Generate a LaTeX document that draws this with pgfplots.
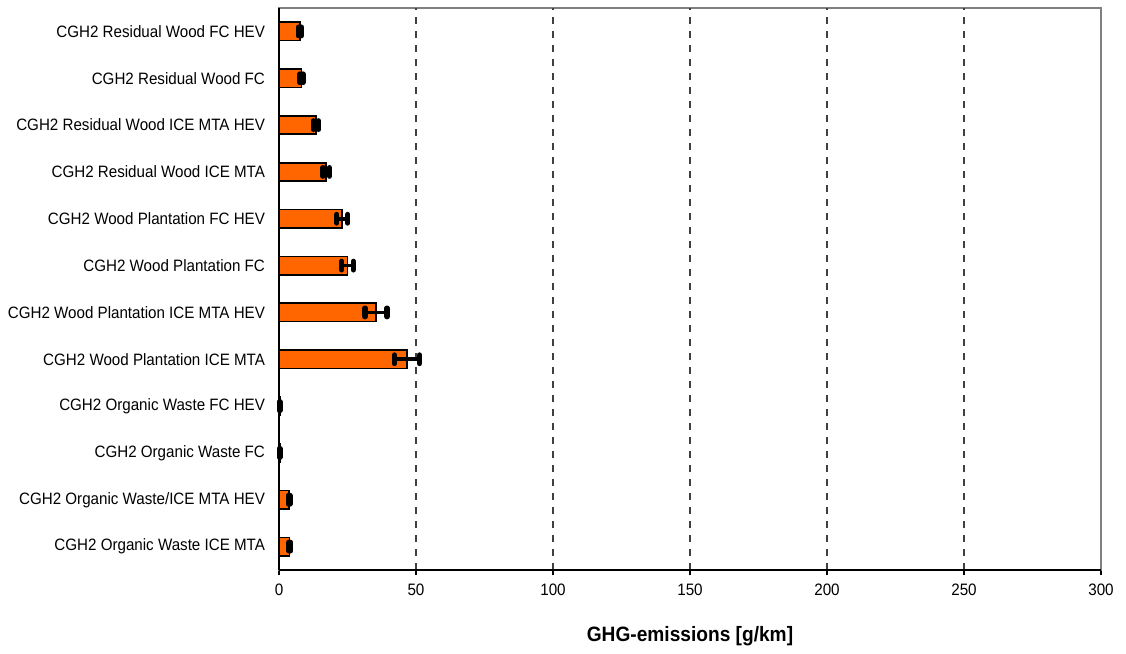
\documentclass[border=0pt]{standalone}
\usepackage{pgfplots}
\pgfplotsset{compat=1.18}
\usepackage{fontspec}
\setmainfont[FakeStretch=0.92]{Liberation Sans}
\definecolor{barorange}{HTML}{FF6600}
\begin{document}
\begin{tikzpicture}
\path[use as bounding box] (-209.25pt,-62.25pt) rectangle (635.25pt,427.5pt);
\begin{axis}[
  at={(0,0)}, anchor=south west,
  scale only axis,
  width=616.5pt, height=421.5pt,
  xmin=0, xmax=300,
  ymin=0.5, ymax=12.5,
  xbar,
  bar width=13.8pt,
  axis line style={draw=gray, line width=0.8pt},
  xtick={0,50,...,300},
  xtick pos=bottom, ytick pos=left,
  /pgf/number format/assume math mode=true,
  x tick label style={font=\fontsize{12.4}{14}\selectfont, yshift=-3pt},
  extra x ticks={50,100,...,250},
  extra x tick labels={},
  extra x tick style={grid=major, major tick length=0pt},
  grid style={black!75, dash pattern=on 5pt off 5.5pt, line width=0.8pt},
  tick align=outside,
  major tick length=4pt,
  tick style={black, line width=0.8pt},
  ytick={1,...,12},
  yticklabels={CGH2 Organic Waste ICE MTA, CGH2 Organic Waste/ICE MTA HEV, CGH2 Organic Waste FC, CGH2 Organic Waste FC HEV, CGH2 Wood Plantation ICE MTA, CGH2 Wood Plantation ICE MTA HEV, CGH2 Wood Plantation FC, CGH2 Wood Plantation FC HEV, CGH2 Residual Wood ICE MTA, CGH2 Residual Wood ICE MTA HEV, CGH2 Residual Wood FC, CGH2 Residual Wood FC HEV},
  y tick label style={font=\fontsize{12.35}{14}\selectfont, xshift=-3pt},
  ytick style={draw=none},
  minor ytick={0.5,1.5,...,12.5},
  minor y tick style={black, line width=0.8pt},
  minor tick length=4pt,
  xlabel={\textbf{GHG-emissions [g/km]}},
  xlabel style={font=\fontsize{15.6}{17}\selectfont, yshift=-12pt},
  clip=false,
]
\addplot[fill=barorange, draw=black, line width=1.2pt,
  error bars/.cd, x dir=both, x explicit,
  error bar style={line width=2.8pt, black},
  error mark=|,
  error mark options={line width=4pt, mark size=3.2pt, line cap=round, black}]
coordinates {
(3.9,1) +- (0.3,0)
(3.7,2) +- (0.3,0)
(0.3,3) +- (0.1,0)
(0.3,4) +- (0.1,0)
(46.7,5) +- (4.6,0)
(35.4,6) +- (4.0,0)
(25.0,7) +- (2.1,0)
(23.1,8) +- (2.0,0)
(17.2,9) +- (1.2,0)
(13.5,10) +- (1.0,0)
(8.2,11) +- (0.5,0)
(7.6,12) +- (0.6,0)
};
\draw[black, line width=0.8pt] (rel axis cs:0,0) -- (rel axis cs:0,1);
\draw[black, line width=0.8pt] (rel axis cs:0,0) -- (rel axis cs:1,0);
\end{axis}
\end{tikzpicture}
\end{document}
